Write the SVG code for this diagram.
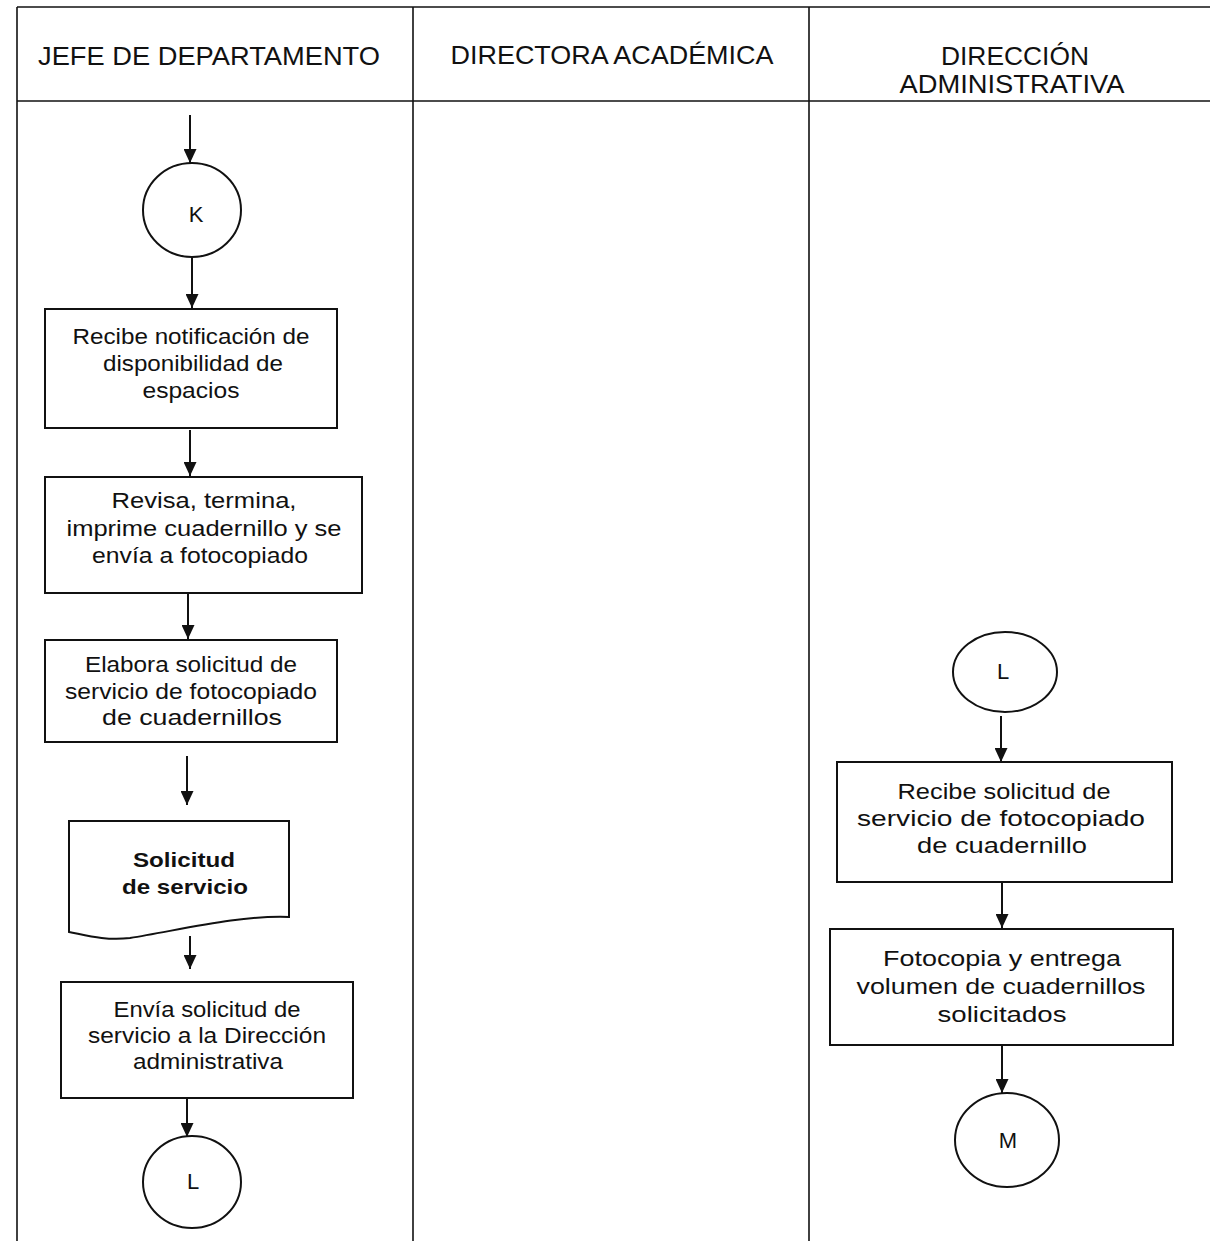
<svg xmlns="http://www.w3.org/2000/svg" width="1210" height="1241" viewBox="0 0 1210 1241">
  <style>
    .grid { stroke: #111; stroke-width: 1.6; fill: none; }
    .shape { stroke: #111; stroke-width: 2; fill: #fff; }
    .conn { stroke: #111; stroke-width: 2; fill: none; marker-end: url(#arrow); }
    text { font-family: "Liberation Sans", Arial, sans-serif; fill: #111; text-anchor: middle; }
    .hdr { font-size: 25px; }
    .lbl { font-size: 21.5px; }
    .lbr { font-size: 22.5px; }
    .ltr { font-size: 22px; }
    .bold { font-weight: bold; font-size: 21px; }
  </style>
  <defs>
    <marker id="arrow" markerWidth="14" markerHeight="13" refX="14" refY="6.5" orient="auto" markerUnits="userSpaceOnUse" viewBox="0 0 14 13">
      <path d="M0,0 L14,6.5 L0,13 Z" fill="#111"/>
    </marker>
  </defs>
  <rect width="1210" height="1241" fill="#fff"/>

  <!-- swimlane table -->
  <g id="lanes">
    <line class="grid" x1="17" y1="7" x2="1210" y2="7"/>
    <line class="grid" x1="17" y1="101" x2="1210" y2="101"/>
    <line class="grid" x1="17" y1="7" x2="17" y2="1241"/>
    <line class="grid" x1="413" y1="7" x2="413" y2="1241"/>
    <line class="grid" x1="809" y1="7" x2="809" y2="1241"/>
    <text class="hdr" x="209" y="65" textLength="342" lengthAdjust="spacingAndGlyphs">JEFE DE DEPARTAMENTO</text>
    <text class="hdr" x="612" y="64" textLength="323" lengthAdjust="spacingAndGlyphs">DIRECTORA ACADÉMICA</text>
    <text class="hdr" x="1015" y="65" textLength="148" lengthAdjust="spacingAndGlyphs">DIRECCIÓN</text>
    <text class="hdr" x="1012" y="93" textLength="225" lengthAdjust="spacingAndGlyphs">ADMINISTRATIVA</text>
  </g>

  <!-- connectors -->
  <g id="connectors">
    <line class="conn" x1="190" y1="115" x2="190" y2="163"/>
    <line class="conn" x1="192" y1="258" x2="192" y2="308"/>
    <line class="conn" x1="190" y1="430" x2="190" y2="476"/>
    <line class="conn" x1="188" y1="594" x2="188" y2="639"/>
    <line class="conn" x1="187" y1="756" x2="187" y2="805"/>
    <line class="conn" x1="190" y1="936" x2="190" y2="969"/>
    <line class="conn" x1="187" y1="1099" x2="187" y2="1137"/>
    <line class="conn" x1="1001" y1="716" x2="1001" y2="762"/>
    <line class="conn" x1="1002" y1="882" x2="1002" y2="928"/>
    <line class="conn" x1="1002" y1="1046" x2="1002" y2="1093"/>
  </g>

  <!-- off-page connector K -->
  <g id="node-k">
    <ellipse class="shape" cx="192" cy="210" rx="49" ry="47"/>
    <text class="ltr" x="196" y="222">K</text>
  </g>

  <g id="node-recibe-notificacion">
    <rect class="shape" x="45" y="309" width="292" height="119"/>
    <text class="lbl" x="191" y="344" textLength="237" lengthAdjust="spacingAndGlyphs">Recibe notificación de</text>
    <text class="lbl" x="193" y="371" textLength="180" lengthAdjust="spacingAndGlyphs">disponibilidad de</text>
    <text class="lbl" x="191" y="398" textLength="97" lengthAdjust="spacingAndGlyphs">espacios</text>
  </g>

  <g id="node-revisa">
    <rect class="shape" x="45" y="477" width="317" height="116"/>
    <text class="lbl" x="204" y="508" textLength="185" lengthAdjust="spacingAndGlyphs">Revisa,  termina,</text>
    <text class="lbl" x="204" y="536" textLength="275" lengthAdjust="spacingAndGlyphs">imprime cuadernillo y se</text>
    <text class="lbl" x="200" y="563" textLength="216" lengthAdjust="spacingAndGlyphs">envía a fotocopiado</text>
  </g>

  <g id="node-elabora">
    <rect class="shape" x="45" y="640" width="292" height="102"/>
    <text class="lbl" x="191" y="672" textLength="212" lengthAdjust="spacingAndGlyphs">Elabora solicitud de</text>
    <text class="lbl" x="191" y="699" textLength="252" lengthAdjust="spacingAndGlyphs">servicio de fotocopiado</text>
    <text class="lbl" x="192" y="725" textLength="180" lengthAdjust="spacingAndGlyphs">de cuadernillos</text>
  </g>

  <!-- document symbol -->
  <g id="node-solicitud">
    <path class="shape" d="M69,821 L289,821 L289,917 C240,915 180,930 130,938 C105,941 85,935 69,932 Z"/>
    <text class="bold" x="184" y="867" textLength="102" lengthAdjust="spacingAndGlyphs">Solicitud</text>
    <text class="bold" x="185" y="894" textLength="126" lengthAdjust="spacingAndGlyphs">de servicio</text>
  </g>

  <g id="node-envia">
    <rect class="shape" x="61" y="982" width="292" height="116"/>
    <text class="lbl" x="207" y="1017" textLength="187" lengthAdjust="spacingAndGlyphs">Envía solicitud de</text>
    <text class="lbl" x="207" y="1043" textLength="238" lengthAdjust="spacingAndGlyphs">servicio a la Dirección</text>
    <text class="lbl" x="208" y="1069" textLength="150" lengthAdjust="spacingAndGlyphs">administrativa</text>
  </g>

  <g id="node-l-out">
    <ellipse class="shape" cx="192" cy="1182" rx="49" ry="46"/>
    <text class="ltr" x="193" y="1189">L</text>
  </g>

  <g id="node-l-in">
    <ellipse class="shape" cx="1005" cy="672" rx="52" ry="40"/>
    <text class="ltr" x="1003" y="679">L</text>
  </g>

  <g id="node-recibe-solicitud">
    <rect class="shape" x="837" y="762" width="335" height="120"/>
    <text class="lbr" x="1004" y="799" textLength="213" lengthAdjust="spacingAndGlyphs">Recibe solicitud de</text>
    <text class="lbr" x="1001" y="826" textLength="288" lengthAdjust="spacingAndGlyphs">servicio de fotocopiado</text>
    <text class="lbr" x="1002" y="853" textLength="170" lengthAdjust="spacingAndGlyphs">de cuadernillo</text>
  </g>

  <g id="node-fotocopia">
    <rect class="shape" x="830" y="929" width="343" height="116"/>
    <text class="lbr" x="1002" y="966" textLength="238" lengthAdjust="spacingAndGlyphs">Fotocopia y entrega</text>
    <text class="lbr" x="1001" y="994" textLength="289" lengthAdjust="spacingAndGlyphs">volumen de cuadernillos</text>
    <text class="lbr" x="1002" y="1022" textLength="129" lengthAdjust="spacingAndGlyphs">solicitados</text>
  </g>

  <g id="node-m">
    <ellipse class="shape" cx="1007" cy="1140" rx="52" ry="47"/>
    <text class="ltr" x="1008" y="1148">M</text>
  </g>
</svg>
